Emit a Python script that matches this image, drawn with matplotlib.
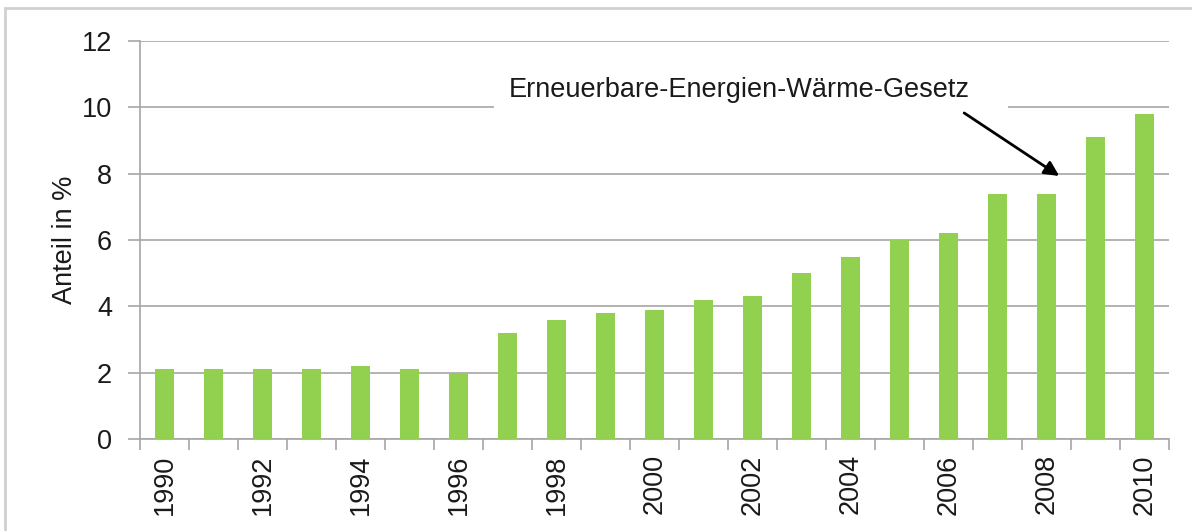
import matplotlib
matplotlib.use("Agg")
from matplotlib import pyplot as plt
from matplotlib.patches import Rectangle
import numpy as np

years = [1990, 1991, 1992, 1993, 1994, 1995, 1996, 1997, 1998, 1999, 2000,
         2001, 2002, 2003, 2004, 2005, 2006, 2007, 2008, 2009, 2010]
share = [2.1, 2.1, 2.1, 2.1, 2.2, 2.1, 2.0, 3.2, 3.6, 3.8, 3.9,
         4.2, 4.3, 5.0, 5.5, 6.0, 6.2, 7.4, 7.4, 9.1, 9.8]
y_ticks = [0, 2, 4, 6, 8, 10, 12]
label = "Erneuerbare-Energien-Wärme-Gesetz"

plt.rcParams['font.family'] = ['Liberation Sans', 'DejaVu Sans']
grid_col = "#a6a6a6"
txt_col = "#1a1a1a"

fig = plt.figure(figsize=(11.92, 5.31), dpi=100)
ax = fig.add_axes([0.1174, 0.1733, 0.9807 - 0.1174, 0.9228 - 0.1733])

# outer chart border
fig.patches.append(Rectangle((5 / 1192, -0.01), 1.1, 1 - 8 / 531 + 0.01,
                             transform=fig.transFigure, fill=False,
                             edgecolor="#d0d0d0", lw=2))

x = np.arange(len(years))
ax.bar(x, share, width=0.4, color="#92d050", zorder=3)

ax.set_xlim(-0.5, len(years) - 0.5)
ax.set_ylim(0, 12)
ax.set_yticks(y_ticks)
ax.yaxis.grid(True, color=grid_col, lw=1.2, zorder=0)
ax.set_axisbelow(True)

# labels every second year, tick marks between categories
ax.set_xticks(x[::2])
ax.set_xticklabels([str(y) for y in years[::2]], rotation=90)
ax.set_xticks(np.arange(len(years) + 1) - 0.5, minor=True)
ax.tick_params(axis="x", which="major", length=0, labelsize=19.5, pad=11,
               labelcolor=txt_col)
ax.tick_params(axis="x", which="minor", length=8, color=grid_col, width=1.2)
ax.tick_params(axis="y", length=9, color=grid_col, width=1.2, labelsize=19.5,
               pad=11, labelcolor=txt_col)

for s in ["top", "right"]:
    ax.spines[s].set_visible(False)
for s in ["left", "bottom"]:
    ax.spines[s].set_color(grid_col)
    ax.spines[s].set_linewidth(1.2)

ax.set_ylabel("Anteil in %", fontsize=19.5, labelpad=3, color=txt_col)

# gap in the gridline behind the annotation text
ax.add_patch(Rectangle((6.72, 9.8), 17.21 - 6.72, 0.4, facecolor="white",
                       edgecolor="none", zorder=1))
ax.text(11.74, 10.52, label, fontsize=19.5, ha="center", va="center",
        color=txt_col, zorder=4)
ax.annotate("", xy=(18.26, 7.93), xytext=(16.32, 9.83),
            arrowprops=dict(arrowstyle="-|>", color="black", lw=2,
                            mutation_scale=22, shrinkA=0, shrinkB=0),
            zorder=4)

fig.savefig("out.png", dpi=100)
